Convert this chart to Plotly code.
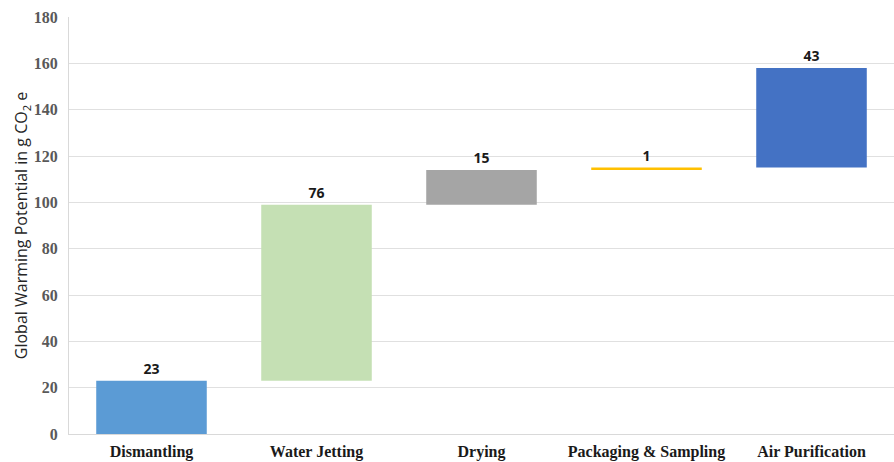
import plotly.graph_objects as go

categories = ["Dismantling", "Water Jetting", "Drying", "Packaging & Sampling", "Air Purification"]
values = [23, 76, 15, 1, 43]
colors = ["#5B9BD5", "#C5E0B4", "#A5A5A5", "#FFC000", "#4472C4"]
y_ticks = [0, 20, 40, 60, 80, 100, 120, 140, 160, 180]

bases = []
running = 0
for v in values:
    bases.append(running)
    running += v

fig = go.Figure()
fig.add_trace(go.Bar(
    x=categories,
    y=values,
    base=bases,
    marker=dict(color=colors, line=dict(width=0)),
    text=[str(v) for v in values],
    textposition="outside",
    textfont=dict(family="Open Sans", size=14, color="#1a1a1a", weight="bold"),
    cliponaxis=False,
    hoverinfo="skip",
))

fig.update_layout(
    width=894, height=462,
    margin=dict(l=69, r=0, t=17, b=28),
    plot_bgcolor="white", paper_bgcolor="white",
    bargap=0.33,
    showlegend=False,
    xaxis=dict(
        showline=True, linecolor="#d9d9d9", linewidth=1,
        ticks="", ticklabelstandoff=3,
        tickfont=dict(family="Liberation Serif", size=16, color="#1a1a1a", weight="bold"),
        showgrid=False,
    ),
    yaxis=dict(
        range=[0, 180], tickvals=y_ticks,
        showgrid=True, gridcolor="#e0e0e0", gridwidth=1,
        showline=True, linecolor="#d9d9d9", linewidth=1,
        zeroline=False, ticks="", ticklabelstandoff=7,
        tickfont=dict(family="Liberation Serif", size=16, color="#595959", weight="bold"),
        title=dict(text="Global Warming Potential in g CO<sub>2</sub> e",
                   font=dict(family="Open Sans", size=16, color="#262626"), standoff=1),
    ),
)

fig.write_html("out.html")
